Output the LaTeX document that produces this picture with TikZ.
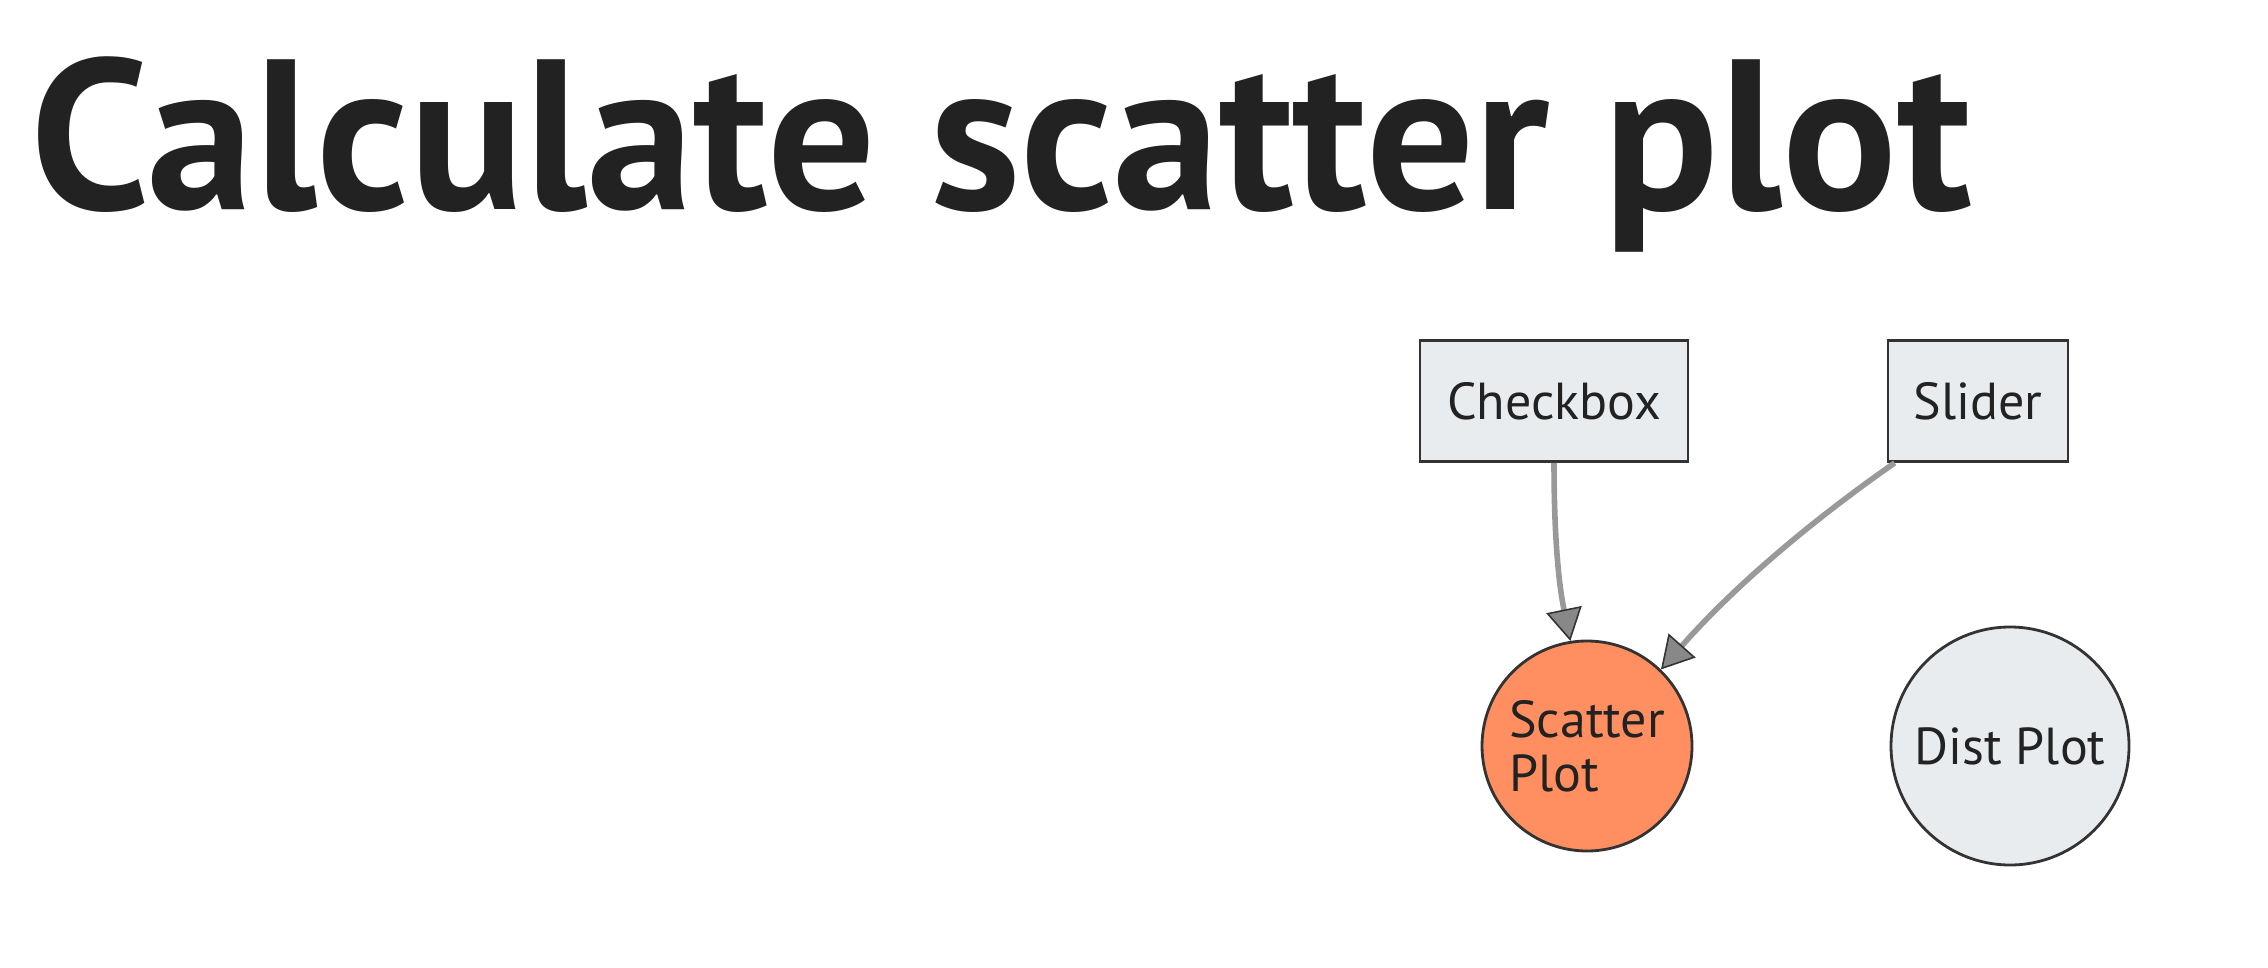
\documentclass[tikz,border=0pt]{standalone}
\usepackage{fontspec}
\setmainfont{PT Sans}
\usetikzlibrary{arrows.meta}
\definecolor{boxfill}{HTML}{E9ECEF}
\definecolor{border}{HTML}{333333}
\definecolor{scatfill}{HTML}{FF8F60}
\definecolor{edgegray}{HTML}{999999}
\definecolor{tipgray}{HTML}{888888}
\definecolor{titlecol}{HTML}{222222}
\tikzset{
  boxnode/.style={draw=border, line width=1.4pt, fill=boxfill, rectangle, minimum height=60.5pt, inner sep=0pt, font=\fontsize{26}{27}\selectfont, text=titlecol},
  circnode/.style={draw=border, line width=1.4pt, fill=boxfill, circle, inner sep=0pt, font=\fontsize{26}{27}\selectfont, text=titlecol},
  edge/.style={draw=edgegray, line width=2.8pt, -{Triangle[length=16pt,width=18pt,color=border,fill=tipgray,line width=0.8pt]}}
}
\begin{document}
\begin{tikzpicture}[x=0.5pt,y=-0.5pt]
\useasboundingbox (0,0) rectangle (2268,968);
\node[anchor=base west, inner sep=0pt, text=titlecol, font=\fontsize{107}{110}\selectfont\bfseries] (title) at (30,210) {Calculate scatter plot};
\node[boxnode, minimum width=134pt] (cb) at (1554,401) {Checkbox};
\node[boxnode, minimum width=90pt] (sl) at (1978,401) {Slider};
\node[circnode, fill=scatfill, minimum size=105pt, align=left] (sc) at (1587,746) {Scatter\\Plot};
\node[circnode, minimum size=119pt] (dp) at (2010,746) {Dist Plot};
\draw[edge] (cb.south) .. controls (1554,560) and (1562,600) .. (sc.99);
\draw[edge] ([xshift=4pt]sl.south west) .. controls (1820,515) and (1740,580) .. (sc.46);
\end{tikzpicture}
\end{document}
